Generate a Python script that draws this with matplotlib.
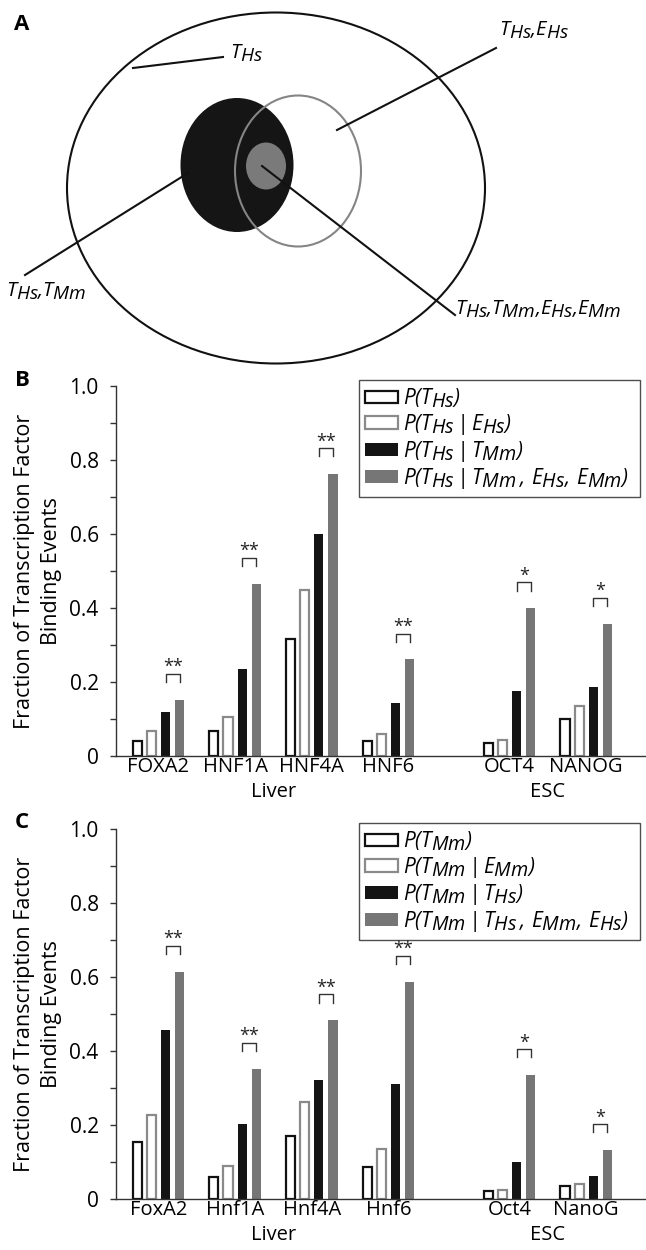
import numpy as np
import matplotlib
matplotlib.use('Agg')
import matplotlib.pyplot as plt
import matplotlib._mathtext as mtext
from matplotlib.patches import Ellipse, Patch

plt.rcParams['font.family'] = ['Open Sans', 'DejaVu Sans']
plt.rcParams['mathtext.fontset'] = 'custom'
plt.rcParams['mathtext.rm'] = 'Open Sans:italic'
plt.rcParams['mathtext.it'] = 'Open Sans:italic'
# subscripts in the figure are almost full size
mtext.SHRINK_FACTOR = 0.95

# ---- data ----
b_names = ['FOXA2', 'HNF1A', 'HNF4A', 'HNF6', 'OCT4', 'NANOG']
c_names = ['FoxA2', 'Hnf1A', 'Hnf4A', 'Hnf6', 'Oct4', 'NanoG']
groups = ['Liver', 'ESC']
group_size = [4, 2]

b_p_t = [0.041, 0.068, 0.315, 0.041, 0.035, 0.099]
b_p_t_e = [0.068, 0.106, 0.450, 0.059, 0.043, 0.136]
b_p_t_t = [0.120, 0.236, 0.600, 0.142, 0.175, 0.186]
b_p_t_all = [0.152, 0.465, 0.762, 0.261, 0.399, 0.357]
b_stars = ['**', '**', '**', '**', '*', '*']

c_p_t = [0.154, 0.059, 0.169, 0.086, 0.021, 0.034]
c_p_t_e = [0.227, 0.089, 0.263, 0.136, 0.025, 0.041]
c_p_t_t = [0.456, 0.202, 0.322, 0.311, 0.100, 0.063]
c_p_t_all = [0.614, 0.352, 0.483, 0.587, 0.335, 0.132]
c_stars = ['**', '**', '**', '**', '*', '*']

b_legend = [r'$P(T_{Hs})$', r'$P(T_{Hs}\,|\,E_{Hs})$', r'$P(T_{Hs}\,|\,T_{Mm})$',
            r'$P(T_{Hs}\,|\,T_{Mm}\,,\,E_{Hs},\,E_{Mm})$']
c_legend = [r'$P(T_{Mm})$', r'$P(T_{Mm}\,|\,E_{Mm})$', r'$P(T_{Mm}\,|\,T_{Hs})$',
            r'$P(T_{Mm}\,|\,T_{Hs}\,,\,E_{Mm},\,E_{Hs})$']

W, H = 646, 1250
fig = plt.figure(figsize=(W / 100, H / 100), dpi=100)

# ---- panel A: nested ellipse diagram, drawn in pixel units ----
axa = fig.add_axes([0, 1 - 380 / H, 1, 380 / H])
axa.set_xlim(0, W)
axa.set_ylim(380, 0)
axa.axis('off')
axa.add_patch(Ellipse((276, 188), 418, 351, fc='none', ec='#111111', lw=1.5))
axa.add_patch(Ellipse((237, 165), 113, 134, fc='#151515', ec='none'))
axa.add_patch(Ellipse((298, 171), 126, 151, fc='none', ec='#858585', lw=1.5))
axa.add_patch(Ellipse((266, 166), 40, 47, fc='#7a7a7a', ec='none'))
for (x0, y0, x1, y1) in [(133, 68, 223, 57), (337, 130, 496, 48),
                         (188, 173, 25, 275), (262, 166, 455, 315)]:
    axa.plot([x0, x1], [y0, y1], color='#111111', lw=1.5)
fs = 14.5
axa.text(230, 53, r'$T_{Hs}$', fontsize=fs, va='center')
axa.text(499, 30, r'$T_{Hs}{,}E_{Hs}$', fontsize=fs, va='center')
axa.text(6, 291, r'$T_{Hs}{,}T_{Mm}$', fontsize=fs, va='center')
axa.text(455, 309, r'$T_{Hs}{,}T_{Mm}{,}E_{Hs}{,}E_{Mm}$', fontsize=fs, va='center')
fig.text(22 / W, 1 - 24 / H, 'A', fontsize=16, fontweight='bold', ha='center', va='center')

# ---- panels B and C ----
gap = 0.58
xpos = np.arange(6) + np.array([0, 0, 0, 0, gap, gap])
step = 0.185
width = 0.12
styles = [dict(facecolor='white', edgecolor='#111111', linewidth=1.6),
          dict(facecolor='white', edgecolor='#8a8a8a', linewidth=1.6),
          dict(facecolor='#141414', edgecolor='none'),
          dict(facecolor='#767676', edgecolor='none')]


def panel(y0px, letter, series, names, stars, labels):
    ax = fig.add_axes([116 / W, 1 - y0px / H, (W - 116) / W, 370 / H])
    for i, vals in enumerate(series):
        ax.bar(xpos + (i - 1.5) * step, vals, width, **styles[i])
    # significance brackets between 3rd and 4th bar
    for k in range(6):
        top = series[3][k] + 0.07
        xl = xpos[k] + 0.5 * step
        xr = xpos[k] + 1.5 * step
        ax.plot([xl, xl, xr, xr], [top - 0.022, top, top, top - 0.022], color='#333333', lw=1)
        ax.text((xl + xr) / 2, top - 0.006, stars[k], ha='center', va='bottom', fontsize=13,
                color='#222222')
    ax.set_xlim(-0.554, 6.36)
    ax.set_ylim(0, 1.0)
    for s in ['top', 'right']:
        ax.spines[s].set_visible(False)
    for s in ['left', 'bottom']:
        ax.spines[s].set_color('#333333')
        ax.spines[s].set_linewidth(1)
    ax.set_yticks(np.arange(0, 1.01, 0.2))
    ax.set_yticklabels(['0', '0.2', '0.4', '0.6', '0.8', '1.0'])
    ax.set_yticks(np.arange(0.1, 1.0, 0.2), minor=True)
    ax.tick_params(axis='y', which='both', length=4.5, width=1, color='#333333', pad=8, labelsize=15)
    ax.set_xticks(xpos)
    ax.set_xticklabels(names)
    ax.tick_params(axis='x', length=0, pad=1, labelsize=14.5)
    start = 0
    for g, n in zip(groups, group_size):
        cx = xpos[start:start + n].mean()
        ax.annotate(g, (cx, 0), xycoords=('data', 'axes fraction'), xytext=(0, -26),
                    textcoords='offset points', ha='center', va='center', fontsize=14.5)
        start += n
    handles = [Patch(**st) for st in styles]
    leg = ax.legend(handles, labels, loc='upper left', mode='expand',
                    bbox_to_anchor=(359 / W, 1 - (y0px - 376) / H, 281 / W, 0),
                    bbox_transform=fig.transFigure, fontsize=15, frameon=True, fancybox=False,
                    borderpad=0.3, handlelength=1.55, handleheight=0.55, handletextpad=0.25,
                    labelspacing=0.1, borderaxespad=0)
    leg.get_frame().set_edgecolor('#222222')
    leg.get_frame().set_linewidth(1)
    fig.text(38 / W, 1 - (y0px - 185) / H, 'Fraction of Transcription Factor\nBinding Events',
             rotation=90, ha='center', va='center', fontsize=15.5, linespacing=1.35)
    fig.text(22 / W, 1 - (y0px - 376) / H, letter, fontsize=16, fontweight='bold',
             ha='center', va='center')
    return ax


panel(756, 'B', [b_p_t, b_p_t_e, b_p_t_t, b_p_t_all], b_names, b_stars, b_legend)
panel(1199, 'C', [c_p_t, c_p_t_e, c_p_t_t, c_p_t_all], c_names, c_stars, c_legend)

plt.savefig('out.png', dpi=100)
